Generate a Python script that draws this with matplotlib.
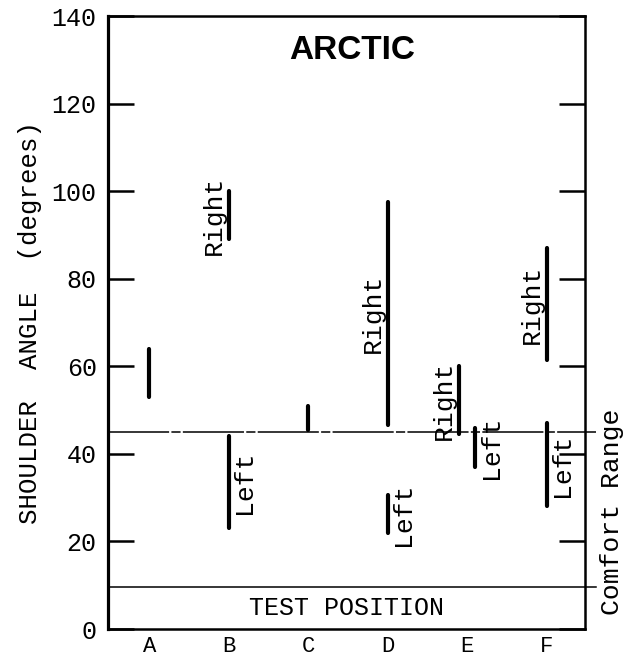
import matplotlib
matplotlib.use("Agg")
import matplotlib.pyplot as plt

plt.rcParams.update({"font.family": ["Liberation Mono", "DejaVu Sans Mono"],
                     "font.size": 18})

# categories on the x axis
groups = ["A", "B", "C", "D", "E", "F"]
yticks = [0, 20, 40, 60, 80, 100, 120, 140]

# measured shoulder angle ranges (degrees)
seg_group = ["A", "B", "B", "C", "D", "D", "E", "E", "F", "F"]
seg_side = ["", "Right", "Left", "", "Right", "Left", "Right", "Left", "Right", "Left"]
seg_low = [53, 89, 23, 45.5, 46.5, 22, 44.5, 37, 61.5, 28]
seg_high = [64, 100, 44, 51, 97.5, 30.5, 60, 46, 87, 47]

# comfort range and test position band
comfort_low, comfort_high = 9.5, 45

# small horizontal nudges where two ranges share a column
nudge = {("E", "Right"): -0.1, ("E", "Left"): 0.1}

fig = plt.figure(figsize=(6.27, 6.59), dpi=100)
ax = fig.add_axes([0.172, 0.0455, 0.761, 0.9302])

xpos = {g: i + 1 for i, g in enumerate(groups)}
for g, side, lo, hi in zip(seg_group, seg_side, seg_low, seg_high):
    x = xpos[g] + nudge.get((g, side), 0.0)
    ax.plot([x, x], [lo, hi], color="black", lw=3, solid_capstyle="round")
    if side:
        dx = -11 if side == "Right" else 11
        ax.annotate(side, (x, (lo + hi) / 2), xytext=(dx, 0),
                    textcoords="offset points", rotation=90,
                    ha="center", va="center", fontsize=19)

# comfort range boundaries, running a little past the right spine
yt = ax.get_yaxis_transform()
for yv, ls in [(comfort_high, (0, (40, 1.5, 6, 1.5))), (comfort_low, "-")]:
    ax.plot([0, 1.023], [yv, yv], color="black", lw=1.1, ls=ls,
            transform=yt, clip_on=False)

ax.text(1.057, (comfort_low + comfort_high) / 2 - 0.5, "Comfort Range",
        transform=yt, rotation=90, ha="center", va="center", fontsize=19)
ax.text(0.5, comfort_low / 2, "TEST POSITION", transform=yt,
        ha="center", va="center", fontsize=18)
ax.text(0.511, 0.944, "ARCTIC", transform=ax.transAxes, ha="center",
        va="center", fontsize=24, fontweight="bold", family="Liberation Sans")

ax.set_xlim(0.48, 6.48)
ax.set_ylim(0, 140)
ax.set_xticks(range(1, len(groups) + 1))
ax.set_xticklabels(groups)
ax.set_yticks(yticks)
ax.tick_params(axis="y", direction="in", length=19, width=1.8, right=True,
               pad=8, labelsize=18)
ax.tick_params(axis="x", length=0, pad=5, labelsize=16)
ax.set_ylabel("SHOULDER  ANGLE  (degrees)", fontsize=18.5, labelpad=7)
for s in ax.spines.values():
    s.set_linewidth(1.8)
ax.spines["left"].set_linewidth(2.3)

fig.savefig("out.png", dpi=100)
